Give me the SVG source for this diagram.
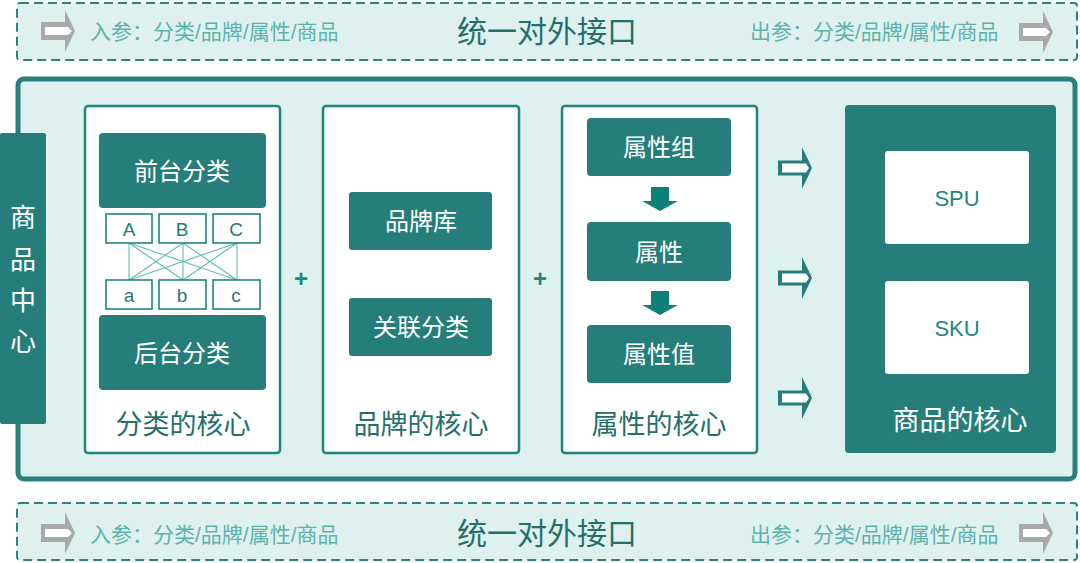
<svg xmlns="http://www.w3.org/2000/svg" width="1080" height="563" viewBox="0 0 1080 563">
<style>
text{font-family:"Liberation Sans","Noto Sans CJK SC",sans-serif;}
.band{fill:#dff1ef;stroke:#2a8580;stroke-width:2;stroke-dasharray:9,5;}
.io{font-size:21px;fill:#5db3ac;}
.title{font-size:30px;fill:#256f6b;}
.panel{fill:#ffffff;stroke:#1b8580;stroke-width:2.5;}
.dark{fill:#267e7b;}
.wt{fill:#ffffff;font-size:24px;text-anchor:middle;dominant-baseline:central;}
.cap{fill:#256f6b;font-size:27px;text-anchor:middle;dominant-baseline:central;}
.lt{fill:#ffffff;stroke:#1f8580;stroke-width:1.6;}
.lett{fill:#1f7a76;font-size:19px;text-anchor:middle;dominant-baseline:central;}
.plus{fill:#1f8580;font-size:24px;font-weight:bold;text-anchor:middle;dominant-baseline:central;}
.cross{stroke:#62bab3;stroke-width:1.1;}
</style>
<defs>
<g id="grayArrow">
<polygon points="0,-9 24,-9 24,-21 34,0 24,21 24,9 0,9" fill="#a9a9a9"/>
<polygon points="4,-4 27,-4 31,0 27,4 4,4" fill="#ffffff"/>
</g>
<g id="tealArrow">
<polygon points="0,-7.5 24,-7.5 24,-21 34,0 24,21 24,7.5 0,7.5" fill="#267e7b"/>
<polygon points="4,-4.5 28,-4.5 31,0 28,4.5 4,4.5" fill="#ffffff"/>
</g>
<g id="downArrow">
<polygon points="-9,0 9,0 9,14 18,14 0,24 -18,14 -9,14" fill="#0f7f7a"/>
</g>
</defs>

<g id="top-interface">
<rect class="band" x="17" y="3" width="1060" height="57" rx="3"/>
<use href="#grayArrow" x="41" y="31"/>
<text class="io" x="90" y="39">入参：分类/品牌/属性/商品</text>
<text class="title" x="547" y="42" text-anchor="middle">统一对外接口</text>
<text class="io" x="750" y="39">出参：分类/品牌/属性/商品</text>
<use href="#grayArrow" x="1019" y="32"/>
</g>

<g id="bottom-interface">
<rect class="band" x="17" y="503" width="1060" height="57" rx="3"/>
<use href="#grayArrow" x="41" y="533"/>
<text class="io" x="90" y="542">入参：分类/品牌/属性/商品</text>
<text class="title" x="547" y="544" text-anchor="middle">统一对外接口</text>
<text class="io" x="750" y="542">出参：分类/品牌/属性/商品</text>
<use href="#grayArrow" x="1019" y="533"/>
</g>

<g id="main-frame">
<rect x="18" y="79" width="1057" height="400" rx="6" fill="#dff1ef" stroke="#287f7b" stroke-width="5"/>
</g>

<g id="product-center-tab">
<rect class="dark" x="0" y="133" width="46" height="291" rx="2"/>
<text class="wt" x="23" y="218" style="font-size:26px">商</text>
<text class="wt" x="23" y="260" style="font-size:26px">品</text>
<text class="wt" x="23" y="301" style="font-size:26px">中</text>
<text class="wt" x="23" y="342" style="font-size:26px">心</text>
</g>

<g id="category-panel">
<rect class="panel" x="85" y="106" width="195" height="347" rx="3"/>
<rect class="dark" x="99" y="133" width="167" height="75" rx="4"/>
<text class="wt" x="182" y="171">前台分类</text>
<rect class="dark" x="99" y="315" width="167" height="75" rx="4"/>
<text class="wt" x="182" y="353">后台分类</text>
<text class="cap" x="183" y="425">分类的核心</text>
</g>

<g id="category-mapping">
<g class="cross">
<line x1="129" y1="243" x2="129" y2="280"/>
<line x1="129" y1="243" x2="183" y2="280"/>
<line x1="129" y1="243" x2="237" y2="280"/>
<line x1="183" y1="243" x2="129" y2="280"/>
<line x1="183" y1="243" x2="183" y2="280"/>
<line x1="183" y1="243" x2="237" y2="280"/>
<line x1="237" y1="243" x2="129" y2="280"/>
<line x1="237" y1="243" x2="183" y2="280"/>
<line x1="237" y1="243" x2="237" y2="280"/>
</g>
<rect class="lt" x="106" y="214" width="46" height="29"/>
<rect class="lt" x="159" y="214" width="47" height="29"/>
<rect class="lt" x="213" y="214" width="47" height="29"/>
<text class="lett" x="129" y="229">A</text>
<text class="lett" x="182" y="229">B</text>
<text class="lett" x="236" y="229">C</text>
<rect class="lt" x="106" y="280" width="46" height="29"/>
<rect class="lt" x="159" y="280" width="47" height="29"/>
<rect class="lt" x="213" y="280" width="47" height="29"/>
<text class="lett" x="129" y="295">a</text>
<text class="lett" x="182" y="295">b</text>
<text class="lett" x="236" y="295">c</text>
</g>

<g id="plus-1"><text class="plus" x="301" y="278">+</text></g>

<g id="brand-panel">
<rect class="panel" x="323" y="106" width="196" height="347" rx="3"/>
<rect class="dark" x="349" y="192" width="143" height="58" rx="3"/>
<text class="wt" x="421" y="221">品牌库</text>
<rect class="dark" x="349" y="298" width="143" height="58" rx="3"/>
<text class="wt" x="421" y="327">关联分类</text>
<text class="cap" x="421" y="425">品牌的核心</text>
</g>

<g id="plus-2"><text class="plus" x="540" y="278">+</text></g>

<g id="attribute-panel">
<rect class="panel" x="562" y="106" width="195" height="347" rx="3"/>
<rect class="dark" x="587" y="118" width="144" height="58" rx="4"/>
<text class="wt" x="659" y="147">属性组</text>
<use href="#downArrow" x="660" y="187"/>
<rect class="dark" x="587" y="222" width="144" height="59" rx="4"/>
<text class="wt" x="659" y="252">属性</text>
<use href="#downArrow" x="660" y="291"/>
<rect class="dark" x="587" y="325" width="144" height="58" rx="4"/>
<text class="wt" x="659" y="354">属性值</text>
<text class="cap" x="659" y="425">属性的核心</text>
</g>

<g id="connectors">
<use href="#tealArrow" x="778" y="168"/>
<use href="#tealArrow" x="778" y="278"/>
<use href="#tealArrow" x="778" y="398"/>
</g>

<g id="product-core">
<rect class="dark" x="845" y="105" width="211" height="348" rx="4"/>
<rect x="885" y="151" width="144" height="93" rx="3" fill="#ffffff"/>
<text x="957" y="198" style="fill:#1f8580;font-size:22px;text-anchor:middle;dominant-baseline:central">SPU</text>
<rect x="885" y="281" width="144" height="93" rx="3" fill="#ffffff"/>
<text x="957" y="328" style="fill:#1f8580;font-size:22px;text-anchor:middle;dominant-baseline:central">SKU</text>
<text class="wt" x="960" y="421" style="font-size:27px">商品的核心</text>
</g>
</svg>
